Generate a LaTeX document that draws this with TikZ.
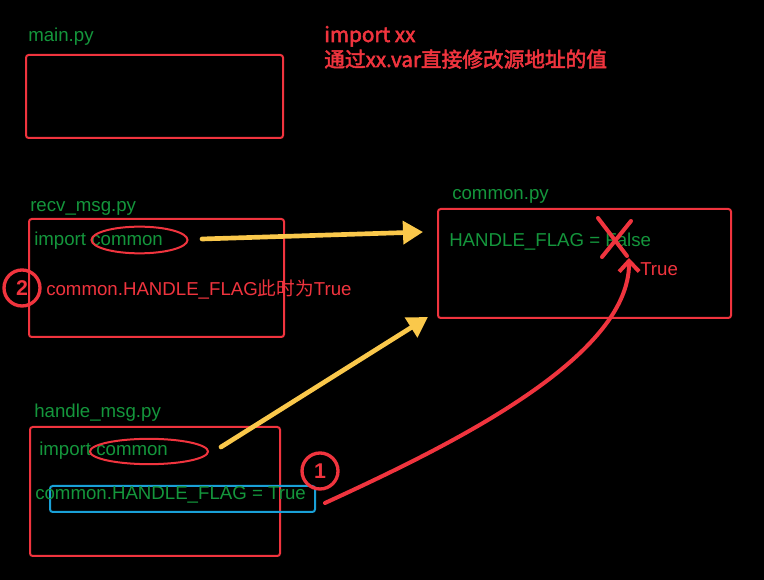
\documentclass[tikz,border=0pt]{standalone}
\usepackage{fontspec}
\setmainfont{Liberation Sans}
\newfontfamily\cjk{Noto Sans CJK SC}
\newfontfamily\cjkbold{Noto Sans CJK SC}[FakeBold=2.5]
\usetikzlibrary{arrows.meta,fit,shapes.geometric}

\definecolor{inkred}{RGB}{240,52,62}
\definecolor{codegreen}{RGB}{20,150,60}
\definecolor{penyellow}{RGB}{250,200,75}
\definecolor{boxblue}{RGB}{25,160,215}

\tikzset{
  filebox/.style={draw=inkred, line width=1.5pt, rounded corners=2pt, inner sep=0pt},
  codetext/.style={text=codegreen, anchor=base west, inner sep=0pt, font=\fontsize{14}{16}\selectfont},
  notetext/.style={text=inkred, anchor=base west, inner sep=0pt, font=\fontsize{14}{16}\selectfont},
  ring/.style={ellipse, draw=inkred, line width=1.5pt, inner sep=0pt},
  yellowarrow/.style={draw=penyellow, line width=3.5pt, line cap=round, -{Triangle[length=15pt,width=17pt]}},
  pen/.style={draw=inkred, line width=3pt, line cap=round},
  handmark/.style={circle, draw=inkred, line width=2.5pt, text=inkred, inner sep=0pt, minimum size=27pt, font=\bfseries\fontsize{16}{16}\selectfont}
}

\begin{document}
\begin{tikzpicture}[x=0.75pt, y=-0.75pt]
    \useasboundingbox (0,0) rectangle (764,580);
    \fill[black] (0,0) rectangle (764,580);

    % main.py
    \node[codetext] (mainname) at (28,42) {main.py};
    \node[filebox, fit={(26,55) (283,138)}] (mainbox) {};

    % note
    \node[anchor=base west, inner sep=0pt, text=inkred, font=\cjkbold\fontsize{15.5}{17}\selectfont] (note1) at (324,42) {import xx};
    \node[anchor=base west, inner sep=0pt, text=inkred, font=\cjkbold\fontsize{15.5}{17}\selectfont] (note2) at (324,67) {通过xx.var直接修改源地址的值};

    % recv_msg.py
    \node[codetext] (recvname) at (30,212) {recv\_msg.py};
    \node[filebox, fit={(29,219) (284,337)}] (recvbox) {};
    \node[codetext] (recvimport) at (34,246) {import common};
    \node[ring, minimum width=72pt, minimum height=20pt] (recvring) at (139.5,240) {};
    \node[notetext] (recvflag) at (46,296) {common.HANDLE\_FLAG{\cjk 此时为}True};
    \node[handmark] (mark2) at (22,288) {2};

    % common.py
    \node[codetext] (commonname) at (452,200) {common.py};
    \node[filebox, fit={(438,209) (731,318)}] (commonbox) {};
    \node[codetext] (commonflag) at (449,247) {HANDLE\_FLAG = False};
    \node[notetext] (truenote) at (640,276) {True};
    \draw[pen] (598,218) -- (627,256);
    \draw[pen] (631,221) -- (602,257);

    % handle_msg.py
    \node[codetext] (handlename) at (34,418) {handle\_msg.py};
    \node[filebox, fit={(30,427) (280,556)}] (handlebox) {};
    \node[codetext] (handleimport) at (39,456) {import common};
    \node[ring, minimum width=88.5pt, minimum height=19pt] (handlering) at (149,451.5) {};
    \node[draw=boxblue, line width=1.5pt, rounded corners=2pt, inner sep=0pt, fit={(50,486) (315,512)}] (flagbox) {};
    \node[codetext] (handleflag) at (35,500) {common.HANDLE\_FLAG = True};
    \node[handmark] (mark1) at (320,471) {1};

    % arrows
    \coordinate (recvtail) at (202,239);
    \coordinate (recvtip) at (423,232);
    \coordinate (handletail) at (221,447);
    \coordinate (handletip) at (428,317);
    \coordinate (curvetail) at (325,503);
    \coordinate (curvetip) at (629,258);
    \draw[yellowarrow] (recvtail) -- (recvtip);
    \draw[yellowarrow] (handletail) -- (handletip);
    \draw[pen, -{Straight Barb[length=8pt,width=15pt]}] (curvetail) .. controls (440,450) and (630,360) .. (curvetip);

\end{tikzpicture}
\end{document}
